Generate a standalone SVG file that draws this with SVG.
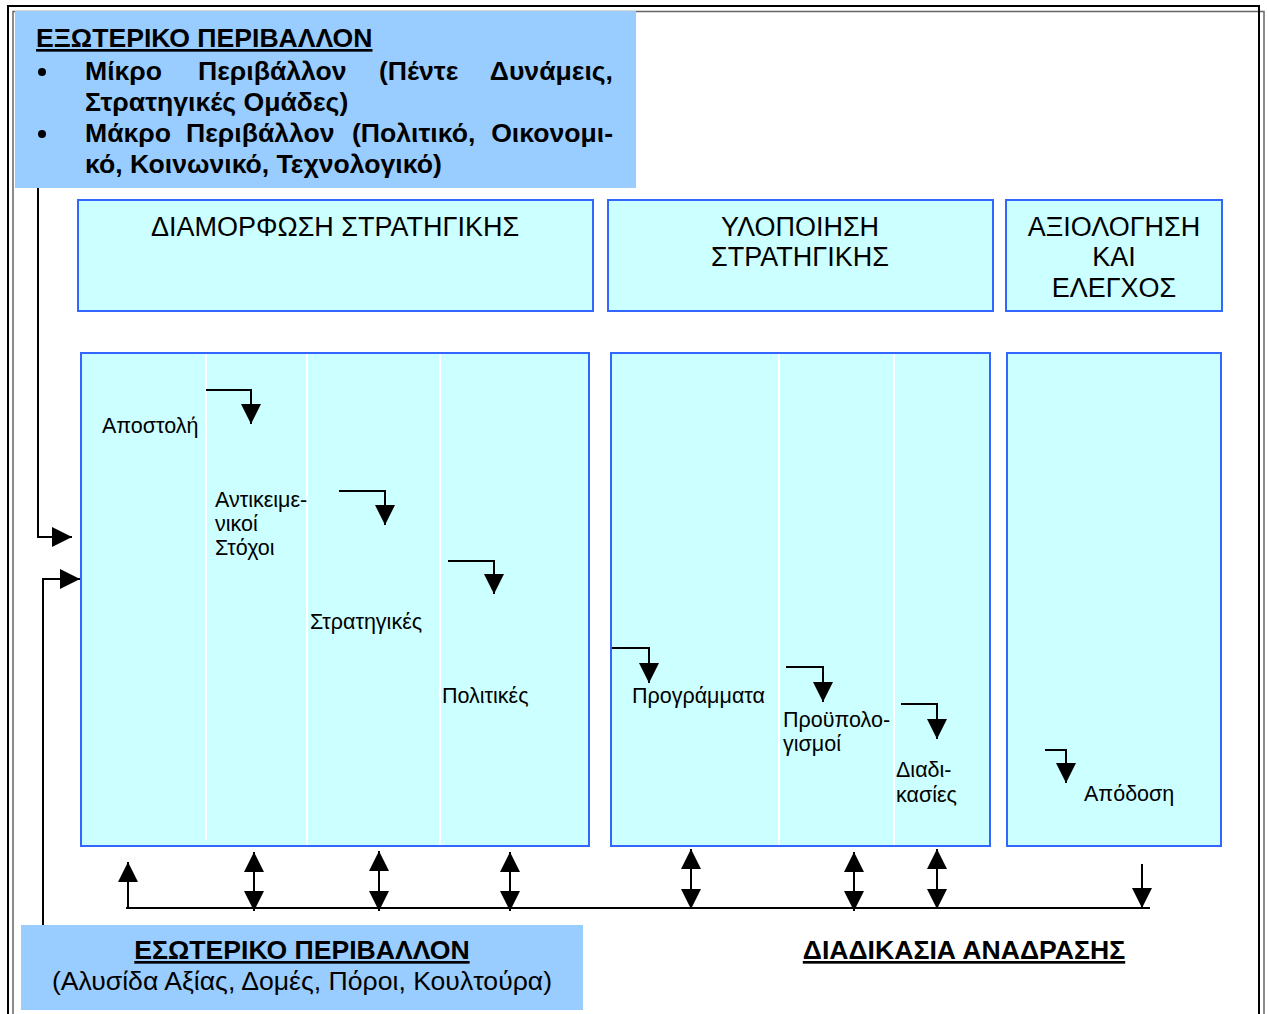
<svg xmlns="http://www.w3.org/2000/svg" width="1268" height="1014" viewBox="0 0 1268 1014">
  <style>
    text { font-family: "Liberation Sans", Arial, sans-serif; fill: #000; }
    .env { fill: #99CCFF; stroke: none; }
    .stage { fill: #CCFFFF; stroke: #3366FF; stroke-width: 2; }
    .divider { stroke: #FFFFFF; stroke-width: 2; }
    .head { font-size: 27px; text-anchor: middle; }
    .step { font-size: 21.5px; }
    .bold { font-weight: bold; }
    .big { font-size: 26.6px; }
    .u { text-decoration: underline; }
    .conn { fill: none; stroke: #000; stroke-width: 2; }
  </style>
  <defs>
    <marker id="tip" markerUnits="userSpaceOnUse" markerWidth="20" markerHeight="20" refX="20" refY="10" orient="auto-start-reverse">
      <path d="M0,0 L20,10 L0,20 z" fill="#000"/>
    </marker>
  </defs>

  <rect width="1268" height="1014" fill="#FFFFFF"/>

  <!-- page frame with offset shadow line -->
  <g id="frame" fill="none">
    <rect x="13" y="11.5" width="1251" height="1030" stroke="#666" stroke-width="1.5"/>
    <rect x="8" y="6" width="1251" height="1030" stroke="#000" stroke-width="2"/>
  </g>

  <!-- external environment -->
  <g id="external-env">
    <rect class="env" x="15" y="11" width="621" height="177"/>
    <text class="bold big u" x="36" y="47">ΕΞΩΤΕΡΙΚΟ ΠΕΡΙΒΑΛΛΟΝ</text>
    <circle cx="42" cy="72" r="4" fill="#000"/>
    <circle cx="42" cy="134" r="4" fill="#000"/>
    <text class="bold big" y="80"><tspan x="85">Μίκρο</tspan><tspan x="198">Περιβάλλον</tspan><tspan x="379">(Πέντε</tspan><tspan x="613" text-anchor="end">Δυνάμεις,</tspan></text>
    <text class="bold big" x="85" y="111">Στρατηγικές Ομάδες)</text>
    <text class="bold big" y="142"><tspan x="85">Μάκρο</tspan><tspan x="186">Περιβάλλον</tspan><tspan x="352">(Πολιτικό,</tspan><tspan x="613" text-anchor="end">Οικονομι-</tspan></text>
    <text class="bold big" x="85" y="173">κό, Κοινωνικό, Τεχνολογικό)</text>
  </g>

  <!-- stage headers -->
  <g id="header-formulation">
    <rect class="stage" x="78" y="200" width="515" height="111"/>
    <text class="head" x="335" y="236">ΔΙΑΜΟΡΦΩΣΗ ΣΤΡΑΤΗΓΙΚΗΣ</text>
  </g>
  <g id="header-implementation">
    <rect class="stage" x="608" y="200" width="385" height="111"/>
    <text class="head" x="800" y="236">ΥΛΟΠΟΙΗΣΗ</text>
    <text class="head" x="800" y="266">ΣΤΡΑΤΗΓΙΚΗΣ</text>
  </g>
  <g id="header-evaluation">
    <rect class="stage" x="1006" y="200" width="216" height="111"/>
    <text class="head" x="1114" y="236">ΑΞΙΟΛΟΓΗΣΗ</text>
    <text class="head" x="1114" y="266">ΚΑΙ</text>
    <text class="head" x="1114" y="297">ΕΛΕΓΧΟΣ</text>
  </g>

  <!-- stage panels -->
  <g id="panel-formulation">
    <rect class="stage" x="81" y="353" width="508" height="493"/>
    <line class="divider" x1="206" y1="354" x2="206" y2="840"/>
    <line class="divider" x1="307" y1="354" x2="307" y2="845"/>
    <line class="divider" x1="440" y1="354" x2="440" y2="845"/>
  </g>
  <g id="panel-implementation">
    <rect class="stage" x="611" y="353" width="379" height="493"/>
    <line class="divider" x1="779" y1="354" x2="779" y2="845"/>
    <line class="divider" x1="894" y1="354" x2="894" y2="845"/>
  </g>
  <g id="panel-evaluation">
    <rect class="stage" x="1007" y="353" width="214" height="493"/>
  </g>

  <!-- steps -->
  <g id="step-mission"><text class="step" x="102" y="433">Αποστολή</text></g>
  <g id="step-objectives">
    <text class="step" x="215" y="507">Αντικειμε-</text>
    <text class="step" x="215" y="531">νικοί</text>
    <text class="step" x="215" y="555">Στόχοι</text>
  </g>
  <g id="step-strategies"><text class="step" x="310" y="629">Στρατηγικές</text></g>
  <g id="step-policies"><text class="step" x="442" y="703">Πολιτικές</text></g>
  <g id="step-programs"><text class="step" x="632" y="703">Προγράμματα</text></g>
  <g id="step-budgets">
    <text class="step" x="783" y="727">Προϋπολο-</text>
    <text class="step" x="783" y="751">γισμοί</text>
  </g>
  <g id="step-procedures">
    <text class="step" x="896" y="777">Διαδι-</text>
    <text class="step" x="896" y="802">κασίες</text>
  </g>
  <g id="step-performance"><text class="step" x="1084" y="801">Απόδοση</text></g>

  <!-- internal environment -->
  <g id="internal-env">
    <rect class="env" x="21" y="925" width="562" height="85"/>
    <text class="bold big u" x="302" y="959" text-anchor="middle">ΕΣΩΤΕΡΙΚΟ ΠΕΡΙΒΑΛΛΟΝ</text>
    <text class="big" x="302" y="990" text-anchor="middle">(Αλυσίδα Αξίας, Δομές, Πόροι, Κουλτούρα)</text>
  </g>

  <!-- feedback label -->
  <g id="feedback-label">
    <text class="bold big u" x="964" y="959" text-anchor="middle">ΔΙΑΔΙΚΑΣΙΑ ΑΝΑΔΡΑΣΗΣ</text>
  </g>

  <!-- connectors -->
  <g id="connectors">
    <path class="conn" d="M38,188 V537 H72" marker-end="url(#tip)"/>
    <path class="conn" d="M43,925 V579 H80" marker-end="url(#tip)"/>

    <path class="conn" d="M206,390 H251 V424" marker-end="url(#tip)"/>
    <path class="conn" d="M339,491 H385 V525" marker-end="url(#tip)"/>
    <path class="conn" d="M448,561 H494 V594" marker-end="url(#tip)"/>
    <path class="conn" d="M612,648 H649 V683" marker-end="url(#tip)"/>
    <path class="conn" d="M786,667 H823 V702" marker-end="url(#tip)"/>
    <path class="conn" d="M901,704 H937 V739" marker-end="url(#tip)"/>
    <path class="conn" d="M1045,750 H1066 V783" marker-end="url(#tip)"/>

    <path class="conn" d="M126,908 H1150"/>
    <path class="conn" d="M128,908 V862" marker-end="url(#tip)"/>
    <path class="conn" d="M254,852 V911" marker-start="url(#tip)" marker-end="url(#tip)"/>
    <path class="conn" d="M379,851 V911" marker-start="url(#tip)" marker-end="url(#tip)"/>
    <path class="conn" d="M510,852 V911" marker-start="url(#tip)" marker-end="url(#tip)"/>
    <path class="conn" d="M691,849 V909" marker-start="url(#tip)" marker-end="url(#tip)"/>
    <path class="conn" d="M854,852 V911" marker-start="url(#tip)" marker-end="url(#tip)"/>
    <path class="conn" d="M937,849 V909" marker-start="url(#tip)" marker-end="url(#tip)"/>
    <path class="conn" d="M1142,864 V908" marker-end="url(#tip)"/>
  </g>
</svg>
